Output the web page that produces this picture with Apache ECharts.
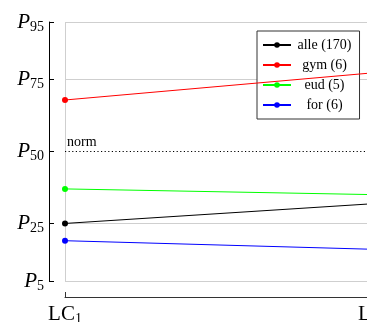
<!DOCTYPE html>
<html>
<head>
<meta charset="utf-8">
<script src="https://cdn.jsdelivr.net/npm/echarts@6/dist/echarts.min.js"></script>
<style>
html,body{margin:0;padding:0;background:#fff;overflow:hidden;width:367px;height:322px;}
#c{width:440px;height:322px;}
</style>
</head>
<body>
<div id="c"></div>
<script>
const categories = ['LC1', 'LC2'];
const seriesNames = ['alle (170)', 'gym (6)', 'eud (5)', 'for (6)'];
const alle = [25.0, 31.9];
const gym = [67.9, 77.4];
const eud = [37.0, 35.0];
const forS = [19.0, 16.0];
const yTicks = [5, 25, 50, 75, 95];
const gridLines = [5, 25, 75, 95];
const normValue = 50;
const colors = ['#000000', '#ff0000', '#00ff00', '#0000ff'];

const FONT = '"Liberation Serif", "DejaVu Serif", serif';
const chart = echarts.init(document.getElementById('c'), null, {renderer: 'canvas'});

const markData = gridLines.map(v => ({yAxis: v, lineStyle: {color: '#cfcfcf', width: 1, type: 'solid'}, label: {show: false}}));
markData.push({yAxis: normValue, lineStyle: {color: '#000', width: 1, type: [1.2, 2.4]},
  label: {show: true, formatter: 'norm', position: 'insideStartTop', distance: [2, 2], color: '#000', fontFamily: FONT, fontSize: 14}});

const dataSets = [alle, gym, eud, forS];
const series = dataSets.map((d, i) => ({
  name: seriesNames[i],
  type: 'line',
  data: d,
  symbol: 'circle',
  symbolSize: 6,
  color: colors[i],
  lineStyle: {width: 1, color: colors[i]},
  itemStyle: {color: colors[i]},
  z: 5,
  animation: false
}));
series[0].markLine = {silent: true, symbol: ['none', 'none'], animation: false, z: 1, data: markData};

chart.setOption({
  animation: false,
  grid: {left: 65, right: 65, top: 22, bottom: 41, containLabel: false, outerBoundsMode: 'none'},
  legend: {
    orient: 'vertical', left: 257, top: 31,
    padding: [7, 8, 7, 5],
    itemGap: 6, itemWidth: 28, itemHeight: 7,
    borderColor: '#333', borderWidth: 1, backgroundColor: '#fff',
    formatter: n => '{c|' + n + '}',
    textStyle: {fontFamily: FONT, fontSize: 14, color: '#000',
      rich: {c: {fontFamily: FONT, fontSize: 14, color: '#000', width: 57, align: 'center'}}},
    data: seriesNames
  },
  xAxis: {
    type: 'category', data: categories, boundaryGap: false, offset: 16,
    axisLine: {lineStyle: {color: '#333', width: 1}},
    axisTick: {inside: true, length: 5, alignWithLabel: true, lineStyle: {color: '#333'}},
    splitLine: {show: true, lineStyle: {color: '#cfcfcf', width: 1}},
    axisLabel: {
      margin: 5,
      formatter: v => '{a|' + v.slice(0, 2) + '}{s|' + v.slice(2) + '}',
      rich: {
        a: {fontFamily: FONT, fontSize: 21, color: '#000'},
        s: {fontFamily: FONT, fontSize: 14, color: '#000', padding: [10, 0, 0, 0]}
      }
    }
  },
  yAxis: {
    type: 'value', min: 5, max: 95, offset: 16,
    axisLine: {show: true, lineStyle: {color: '#000', width: 1}},
    axisTick: {show: true, inside: true, length: 5, customValues: yTicks, lineStyle: {color: '#000'}},
    splitLine: {show: false},
    axisLabel: {
      margin: 5,
      customValues: yTicks,
      formatter: v => '{p|P}{s|' + v + '}',
      rich: {
        p: {fontFamily: FONT, fontSize: 21, fontStyle: 'italic', color: '#000'},
        s: {fontFamily: FONT, fontSize: 14, color: '#000', padding: [10, 0, 0, 0]}
      }
    }
  },
  series: series
});
</script>
</body>
</html>
